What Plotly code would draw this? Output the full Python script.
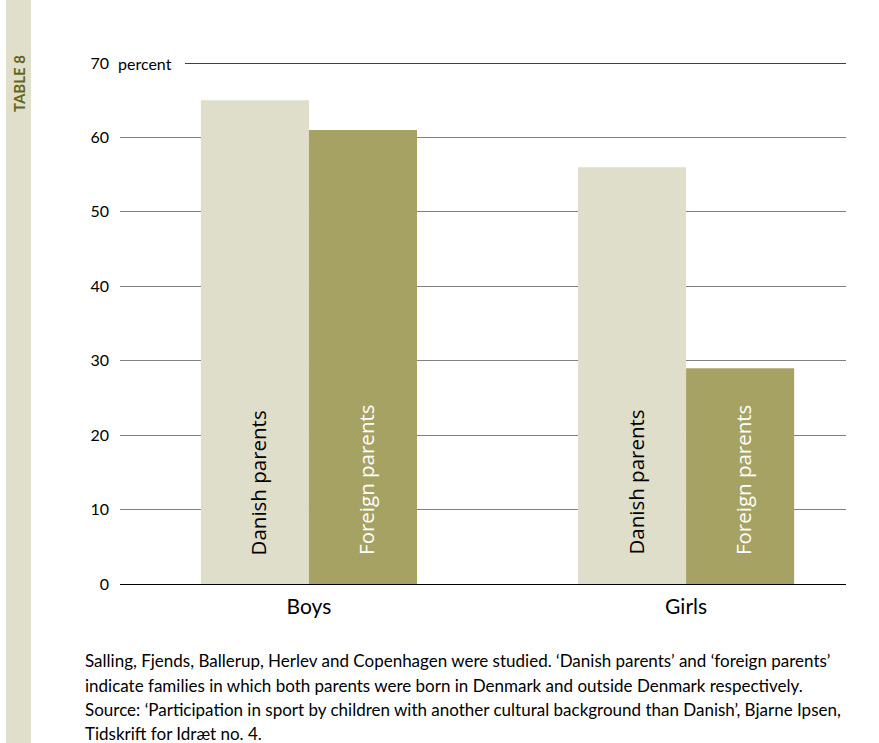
import plotly.graph_objects as go

categories = ["Boys", "Girls"]
series_names = ["Danish parents", "Foreign parents"]
danish = [65, 56]
foreign = [61, 29]
tick_vals = [0, 10, 20, 30, 40, 50, 60, 70]
tick_text = ["0", "10", "20", "30", "40", "50", "60", "70"]
caption_lines = [
    "Salling, Fjends, Ballerup, Herlev and Copenhagen were studied. \u2018Danish parents\u2019 and \u2018foreign parents\u2019",
    "indicate families in which both parents were born in Denmark and outside Denmark respectively.",
    "Source: \u2018Participation in sport by children with another cultural background than Danish\u2019, Bjarne Ipsen,",
    "Tidskrift for Idr\u00e6t no. 4.",
]

W, H = 879, 743
ML, MR, MT, MB = 120, 33, 63, 159
PW = W - ML - MR
PH = H - MT - MB

def px_x(px):
    return (px - ML) / PW

def px_y(py):
    return (H - MB - py) / PH

FONT = "Lato"
BAR_FONT = "Open Sans"
colors = ["#dfdeca", "#a6a263"]
text_colors = ["black", "white"]

fig = go.Figure()
for name, vals, col in zip(series_names, [danish, foreign], colors):
    fig.add_trace(go.Bar(x=categories, y=vals, name=name, marker=dict(color=col, line=dict(width=0)),
                         hoverinfo="x+y"))

annotations = []
# bar labels, rotated, near the bottom of each bar
for i, cat in enumerate(categories):
    for j, (name, tc) in enumerate(zip(series_names, text_colors)):
        annotations.append(dict(x=cat, y=0, xref="x", yref="y", text=name, textangle=-90,
                                showarrow=False, xanchor="center", yanchor="bottom",
                                xshift=(-54 if j == 0 else 54) + 3, yshift=27,
                                font=dict(family=BAR_FONT, size=20.5, color=tc)))
# "percent" label next to 70
annotations.append(dict(x=px_x(117), y=70, xref="paper", yref="y", text="percent", showarrow=False,
                        xanchor="left", yanchor="middle", bgcolor="white", borderpad=0,
                        font=dict(family=FONT, size=16, color="black")))
# sidebar text
annotations.append(dict(x=px_x(19), y=px_y(84), xref="paper", yref="paper", text="<b>TABLE 8</b>",
                        textangle=-90, showarrow=False, xanchor="center", yanchor="middle",
                        font=dict(family=FONT, size=15, color="#66651a")))
# caption
for k, line in enumerate(caption_lines):
    annotations.append(dict(x=px_x(83), y=px_y(661 + 24 * k), xref="paper", yref="paper", text=line,
                            showarrow=False, xanchor="left", yanchor="middle",
                            font=dict(family=FONT, size=17, color="black")))

shapes = [
    dict(type="rect", xref="paper", yref="paper", x0=px_x(6), x1=px_x(31), y0=px_y(743), y1=px_y(0),
         fillcolor="#e0dfcb", line=dict(width=0), layer="below"),
    dict(type="rect", xref="paper", yref="y", x0=px_x(112), x1=px_x(184), y0=68.5, y1=71.5,
         fillcolor="white", line=dict(width=0), layer="above"),
    dict(type="line", xref="paper", yref="y", x0=px_x(185), x1=1, y0=70, y1=70,
         line=dict(color="black", width=1.3), layer="above"),
]

fig.update_layout(
    width=W, height=H,
    margin=dict(l=ML, r=MR, t=MT, b=MB),
    paper_bgcolor="white", plot_bgcolor="white",
    barmode="group", bargap=0.427, bargroupgap=0,
    showlegend=False,
    font=dict(family=FONT, color="black"),
    annotations=annotations,
    shapes=shapes,
    xaxis=dict(range=[-0.501, 1.424], showgrid=False, showline=False, ticks="",
               ticklabelstandoff=8,
               tickfont=dict(family=FONT, size=21, color="black"), fixedrange=True),
    yaxis=dict(range=[0, 70], tickvals=tick_vals, ticktext=tick_text, showgrid=True,
               gridcolor="#808080", gridwidth=1.3, zeroline=True, zerolinecolor="black",
               zerolinewidth=1.3, showline=False, ticks="", ticklabelstandoff=10,
               tickfont=dict(family=FONT, size=16, color="black"), fixedrange=True),
)

fig.write_html("out.html")
